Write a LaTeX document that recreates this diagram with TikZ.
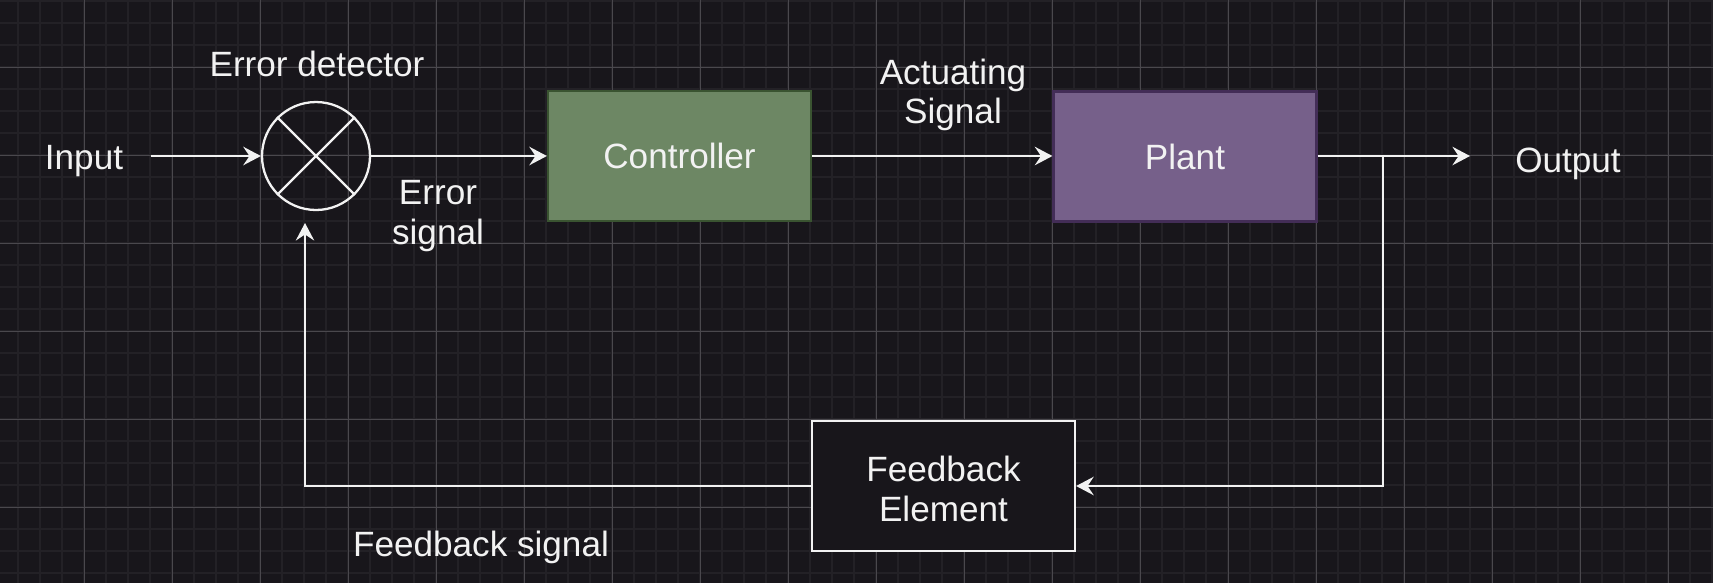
\documentclass[tikz,border=0pt]{standalone}
\usepackage{fontspec}
\setmainfont{Liberation Sans}
\usepackage{tikz}
\usetikzlibrary{positioning,calc,arrows.meta}

\definecolor{bgdark}{HTML}{18161B}
\definecolor{gridminor}{HTML}{232126}
\definecolor{gridmajor}{HTML}{4A484D}
\definecolor{ctrlfill}{HTML}{6D8764}
\definecolor{ctrlline}{HTML}{3A5431}
\definecolor{plantfill}{HTML}{76608A}
\definecolor{plantline}{HTML}{432D57}
\definecolor{wire}{HTML}{F2F2F2}

\tikzset{
    wireline/.style={draw=wire, line width=1.3pt},
    arr/.style={wireline, -{Stealth[length=10pt,width=10.5pt,inset=3.5pt]}},
    blockbox/.style={rectangle, minimum width=5.26cm, minimum height=2.6cm, line width=1.3pt, text=wire},
    lbl/.style={text=wire, align=center},
}

\begin{document}
\begin{tikzpicture}[x=0.02cm, y=-0.02cm, font=\fontsize{20}{22.3}\selectfont]
    % Background and grid
    \fill[bgdark] (0,0) rectangle (1713,583);
    \useasboundingbox (0,0) rectangle (1713,583);
    \foreach \x in {18,40,...,1712} \draw[gridminor, line width=1pt] (\x,0) -- (\x,583);
    \foreach \y in {1,23,...,582} \draw[gridminor, line width=1pt] (0,\y) -- (1713,\y);
    \foreach \x in {84,172,...,1712} \draw[gridmajor, line width=0.5pt] (\x,0) -- (\x,583);
    \foreach \y in {67,155,...,582} \draw[gridmajor, line width=0.5pt] (0,\y) -- (1713,\y);

    % Blocks
    \node[circle, draw=wire, line width=1.3pt, minimum size=2.16cm, inner sep=0pt] (err) at (316,156) {};
    \draw[wireline] (err.45) -- (err.225);
    \draw[wireline] (err.135) -- (err.315);
    \node[blockbox, fill=ctrlfill, draw=ctrlline] (ctrl) at (679.5,156) {\raisebox{-3pt}{Controller}};
    \node[blockbox, fill=plantfill, draw=plantline] (plant) at (1185,156.5) {\raisebox{-3pt}{Plant}};
    \node[blockbox, fill=bgdark, draw=wire, align=center] (fb) at (943.5,486) {};
    \node[lbl] (fbtext) at (943.5,489) {Feedback\\Element};

    % Labels
    \node[lbl] (in) at (84,161) {Input};
    \node[lbl] (out) at (1568,164) {Output};
    \node[lbl] (errlbl) at (317,63.5) {Error detector};
    \node[lbl] (errsig) at (438,216) {Error\\signal};
    \node[lbl] (actsig) at (953,95) {Actuating\\Signal};
    \node[lbl] (fbsig) at (481,547) {Feedback signal};

    % Connectors
    \coordinate (instart) at (151,156);
    \coordinate (outtip) at (1470,156);
    \coordinate (branch) at (1383,156);
    \coordinate (fbtip) at (305,223);
    \draw[arr] (instart) -- (err.west);
    \draw[arr] (err.east) -- (ctrl.west);
    \draw[arr] (ctrl.east) -- (plant.west |- ctrl.east);
    \draw[arr] (plant.east |- ctrl.east) -- (outtip);
    \draw[arr] (branch) |- (fb.east);
    \draw[arr] (fb.west) -| (fbtip);
\end{tikzpicture}
\end{document}
